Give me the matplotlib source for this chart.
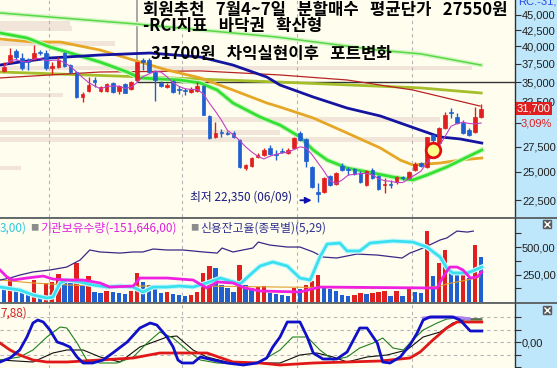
import numpy as np
import pandas as pd
import matplotlib
matplotlib.use('Agg')
import matplotlib.pyplot as plt
from matplotlib.lines import Line2D

plt.rcParams['font.family'] = ['Noto Sans CJK KR', 'DejaVu Sans']

# ---- daily candles (KRW) ----
opens = [36500, 37750, 39300, 38300, 37900, 38150, 39200, 39050, 36900, 37050,
         39050, 37300, 36350, 33100, 33850, 35300, 33850, 33850, 34900, 33850,
         34750, 34100, 35300, 38000, 38000, 36350, 34900, 34350, 35150, 34100,
         34000, 33750, 33850, 34500, 30850, 28500, 29050, 28950, 28950, 28200,
         25350, 25550, 26450, 26650, 27350, 26750, 27050, 26850, 27350, 28950,
         28300, 25450, 23200, 23200, 24600, 23900, 25550, 25300, 25300, 24900,
         23800, 25200, 24600, 23800, 23900, 24100, 24550, 24450, 25200, 25850,
         25450, 28700, 27850, 29450, 31300, 30700, 30050, 29250, 29050, 30750]
highs = [37750, 39750, 39600, 39050, 38300, 40200, 39450, 39450, 37750, 38450,
         39200, 37450, 36500, 33750, 35700, 35700, 34500, 34900, 35000, 34600,
         34900, 35150, 37800, 38300, 38300, 36600, 35150, 34900, 35300, 34500,
         34250, 34350, 35000, 34600, 30950, 30150, 29350, 29150, 29150, 28300,
         25750, 26450, 26850, 27350, 27650, 27150, 27350, 27350, 28500, 29150,
         28400, 25550, 24000, 24550, 24700, 25000, 25850, 25450, 25350, 25100,
         25200, 25350, 24700, 24450, 24250, 24600, 24600, 25100, 25950, 25950,
         28500, 28800, 29600, 31300, 31750, 31200, 30350, 29450, 31900, 32250]
lows = [36350, 37600, 38000, 36600, 36600, 38000, 38750, 36600, 35950, 36900,
        37050, 36200, 32950, 32500, 33750, 34350, 33750, 33750, 33600, 33500,
        33550, 34000, 35150, 36600, 36200, 32600, 34350, 34250, 33600, 33500,
        33350, 33600, 33750, 30900, 28300, 28400, 28500, 28700, 28400, 25350,
        25200, 25450, 26350, 26550, 26650, 26150, 26850, 26750, 27250, 28050,
        25450, 23550, 22350, 23100, 23700, 23800, 25100, 24700, 24700, 24000,
        23700, 24350, 23350, 23100, 23550, 23900, 24250, 24350, 25100, 25450,
        25350, 27150, 27750, 29350, 30600, 29900, 28800, 28600, 28950, 30600]
closes = [37050, 38750, 38450, 36900, 37750, 39050, 39050, 36900, 37150, 38000,
          37150, 36350, 33100, 33500, 34600, 35000, 34350, 34750, 33750, 34500,
          33600, 35000, 37750, 37750, 36350, 35300, 34500, 34600, 33750, 34000,
          33850, 34100, 34500, 30950, 28400, 28950, 28950, 28800, 28500, 25450,
          25650, 26350, 26650, 27150, 26750, 26650, 26950, 27150, 28400, 28200,
          26050, 23600, 23000, 24450, 23800, 24900, 25200, 25200, 24800, 24100,
          25100, 24450, 23450, 23900, 23800, 24550, 24450, 25000, 25750, 25550,
          28500, 28200, 29450, 30950, 31200, 30050, 28950, 28700, 30750, 31700]
volumes = [127, 218, 109, 91, 82, 200, 64, 173, 182, 255,
           200, 173, 355, 155, 236, 91, 82, 100, 91, 82,
           73, 100, 264, 182, 155, 136, 82, 91, 73, 64,
           55, 64, 91, 264, 327, 309, 155, 127, 91, 336,
           155, 127, 136, 145, 82, 73, 64, 55, 127, 118,
           155, 191, 245, 136, 118, 100, 64, 55, 64, 82,
           73, 82, 91, 100, 55, 100, 55, 136, 91, 82,
           645, 236, 355, 473, 273, 245, 291, 218, 518, 409]
month_breaks = [7.5, 29.5, 48.5, 67.5]

# ---- moving averages (day index, price) ----
ma_long_x = [-0.66, 22, 45, 62, 69, 79]
ma_long = [45350, 43500, 41450, 39450, 38900, 37300]
ma_olive_x = [-0.66, 22.5, 45.7, 68.9, 79]
ma_olive = [36350, 35700, 35000, 34250, 33600]
ma_red_x = [-0.66, 15.9, 32.5, 45.7, 56.8, 67.7, 78.8]
ma_red = [35550, 36350, 36500, 35950, 35280, 33980, 32000]
ma_navy_x = [-0.66, 2.6, 7.6, 15.9, 24.2, 32.5, 37.9, 43.5, 45.7, 51.2,
             56.8, 62.3, 68.9, 72.2, 75.5, 79.1]
ma_navy = [37310, 37730, 38310, 38740, 39030, 38450, 37310, 35680, 34620, 33100,
           31760, 30830, 29250, 28500, 28290, 27860]
ma_orange_x = [-0.66, 4.8, 9.3, 15.9, 21.4, 27, 32.5, 37.9, 43.5, 45.7,
               51.2, 56.8, 62.3, 65.6, 67.7, 72.2, 75.5, 79.1]
ma_orange = [41130, 40670, 40670, 39470, 38020, 36620, 35550, 33980, 32370, 31880,
             30600, 28930, 27350, 26140, 25660, 25850, 26140, 26340]
ma_green_x = [-0.66, 3.8, 7.6, 12.1, 15.9, 20.4, 22.5, 29.1, 32.5, 35.3, 37.9, 42.4,
              45.7, 49, 51.2, 53.5, 56.8, 61.1, 64.4, 67.7, 70, 73.3, 76.7, 79.1]
ma_green = [42070, 41290, 39920, 38740, 37730, 36350, 35550, 35280, 34880, 33980, 32370, 30710,
            29800, 28500, 27140, 26140, 25370, 24900, 24530, 24260, 24710, 25470, 26440, 27140]

# volume-by-price profile
vp_price = [43590, 42750, 40450, 36900, 33350, 30430, 28970, 28230, 25370]
vp_volume = [70, 72, 115, 472, 63, 440, 280, 433, 21]

support_level = 35000
marker_day = 22
circle_day, circle_price = 71, 27150

# ---- volume panel lines ----
cyan_x = [-0.66, 2.6, 4.8, 7.1, 8.1, 9.3, 10.4, 12.6, 14.7, 17.1, 19.2, 21.4, 23.0, 24.7,
          27.0, 29.1, 31.3, 33.6, 35.8, 39.1, 40.7, 42.4, 44.5, 46.9, 49.0, 50.7, 52.3,
          53.5, 55.6, 56.8, 58.9, 60.6, 64.4, 67.7, 70.0, 72.2, 73.3, 74.3, 76.7, 77.6, 79.1]
cyan_v = [136, 109, 64, 36, 45, 173, 200, 182, 155, 136, 145, 136, 91, 136,
          136, 145, 136, 173, 218, 164, 245, 327, 364, 327, 218, 200, 409,
          527, 536, 464, 464, 536, 555, 545, 500, 409, 309, 264, 264, 282, 318]
inst_x = [-0.66, 0.5, 1.5, 3.8, 6.5, 8.1, 10.4, 13.1, 15.9, 17.5, 21.4, 22.5, 27.0, 31.3,
          33.6, 35.3, 37.9, 39.9, 42.4, 49.0, 52.3, 71.7, 72.7, 73.8, 75.0, 76.0, 77.2, 78.3, 79.1]
inst_v = [291, 227, 200, 218, 236, 209, 200, 200, 173, 136, 145, 218, 218, 200,
          127, 182, 173, 127, 100, 91, 136, 127, 227, 318, 318, 291, 218, 227, 273]
credit_x = [-0.66, 1.0, 2.6, 4.8, 7.6, 10.4, 12.6, 14.2, 15.9, 19.2, 21.4, 23.0, 24.7, 27.0,
            29.6, 33.0, 35.3, 36.1, 37.9, 41.2, 42.1, 44.0, 46.9, 49.0, 51.2, 52.8, 55.1,
            58.4, 61.8, 65.9, 67.2, 69.4, 72.2, 73.3, 75.0, 76.7, 77.7]
credit_v = [200, 218, 245, 273, 291, 318, 382, 473, 455, 445, 455, 455, 482, 473,
            473, 455, 445, 491, 455, 491, 545, 518, 500, 500, 455, 409, 400,
            436, 427, 400, 445, 491, 564, 582, 645, 636, 645]
vol_ma_x = [-0.66, 4.8, 10.4, 15.9, 22.5, 32.5, 45.7, 62.3, 68.9, 72.2, 73.3, 76.7, 78.8]
vol_ma = [200, 173, 155, 145, 145, 145, 136, 127, 127, 145, 164, 200, 227]

# ---- RCI panel lines ----
rci_fast_x = [-0.66, 1.0, 2.6, 3.8, 4.8, 5.6, 6.5, 7.6, 8.8, 9.8, 10.9, 12.1, 13.1, 14.7, 16.4,
              18.0, 20.4, 22.5, 24.2, 25.3, 27.0, 28.0, 28.8, 29.5, 31.3, 32.5, 34.6, 36.9,
              39.6, 41.9, 43.5, 44.5, 45.7, 46.9, 49.0, 50.2, 51.2, 52.8, 55.1, 56.8, 58.9,
              60.1, 61.8, 62.7, 63.9, 65.6, 67.2, 68.4, 69.4, 70.5, 74.3, 75.5, 77.2, 79.1]
rci_fast = [-80, -64, -32, 20, 76, 88, 80, 48, 0, -8, -20, -60, -84, -84, -72,
            -44, 0, 56, 76, 68, 20, -20, -72, -84, -84, -60, -72, -84,
            -92, -84, -64, -20, 20, 80, 80, 20, -44, -68, -68, -40, 56,
            56, -4, -80, -84, -60, -12, 36, 88, 100, 100, 88, 44, 44]
rci_long_x = [-0.66, 1.0, 2.6, 4.8, 7.1, 10.4, 15.9, 21.4, 25.8, 30.3, 33.6, 37.9, 42.4,
              45.7, 51.2, 56.8, 62.3, 67.2, 68.9, 71.0, 73.3, 75.0, 79.1]
rci_long = [-4, -32, -52, -72, -80, -80, -72, -64, -44, -44, -44, -80, -84,
            -92, -84, -80, -76, -64, -40, 8, 56, 80, 80]
rci_mid_x = [-0.66, 2.6, 4.8, 7.1, 9.3, 10.4, 12.1, 13.7, 15.9, 18.7, 21.4, 23.7, 25.8, 28.0,
             30.3, 32.5, 35.3, 39.1, 42.4, 45.7, 47.8, 50.2, 52.3, 54.5, 56.8, 58.9, 61.1,
             62.7, 64.4, 66.1, 67.7, 69.4, 71.7, 73.3, 75.0, 76.7, 79.1]
rci_mid = [-72, -60, -32, 20, 60, 56, -4, -72, -84, -84, -60, -4, 40, 16,
           -32, -72, -84, -88, -80, -32, 20, 20, -32, -72, -60, -24, -4,
           16, -24, -32, 8, 48, 76, 92, 96, 88, 88]
rci_slow_x = [-0.66, 4.8, 8.1, 10.4, 13.1, 15.9, 19.2, 22.5, 27.0, 28.6, 31.3, 33.6, 36.9,
              40.2, 43.5, 45.7, 49.0, 51.8, 54.5, 56.8, 60.1, 63.4, 66.7, 69.4, 72.2,
              74.3, 76.7, 79.1]
rci_slow = [-72, -80, -44, -32, -32, -60, -80, -20, 20, 24, -32, -60, -80,
            -84, -84, -84, -52, -44, -60, -80, -60, -52, -32, 20, 40,
            76, 92, 92]
rci_sig_x = [69.5, 71.0, 74.0, 76.0, 77.0]
rci_sig = [96, 100, 100, 96, 92]

price_ticks = [22500, 25000, 27500, 30000, 32500, 35000, 37500, 40000, 42500, 45000]

# ---- colours ----
CREAM = '#FFFEEE'
AXIS_BG = '#BFE7FB'
RED = '#E0201E'
BLUE = '#1F5FCF'

W, H = 557, 368
fig = plt.figure(figsize=(W / 100, H / 100), dpi=100, facecolor=AXIS_BG)
plot_w = 515 / W
ax1 = fig.add_axes([0, 151 / H, plot_w, 217 / H])
ax2 = fig.add_axes([0, 66 / H, plot_w, 84 / H])
ax3 = fig.add_axes([0, 0, plot_w, 65 / H])

xlim = (-0.66, 84.6)
for ax in (ax1, ax2, ax3):
    ax.set_facecolor(CREAM)
    ax.set_xlim(*xlim)
    ax.set_xticks([])
    for s in ('top', 'left', 'bottom'):
        ax.spines[s].set_visible(False)
    ax.spines['right'].set_color('#303030')
    ax.spines['right'].set_linewidth(1)
    ax.yaxis.tick_right()
    ax.tick_params(axis='y', which='both', direction='out', length=4, width=0.8,
                   color='#303030', pad=1, labelsize=8, labelcolor='#202020')
    for m in month_breaks:
        ax.axvline(m, color='#B4B4B4', lw=0.8, ls=(0, (3, 3)), zorder=0.5)

# ---- price panel ----
ax1.set_yscale('log')
ax1.set_ylim(21120, 47600)
ax1.yaxis.set_minor_locator(plt.NullLocator())
ax1.set_yticks(price_ticks, labels=['' if t == 30000 else f'{t:,}' for t in price_ticks],
               fontfamily='Liberation Sans')

vmax = max(vp_volume)
for p, v in zip(vp_price, vp_volume):
    ax1.axhspan(p / 1.0085, p * 1.0085, xmin=0, xmax=v / vmax * 0.917,
                color='#F1E4D8', lw=0, zorder=0.3)

ax1.vlines(marker_day, support_level, 47600, color='#A0A0A0', lw=1.3, zorder=1)
ax1.hlines(support_level, marker_day, xlim[1], color='#333333', lw=1, zorder=1)

ax1.plot(ma_long_x, ma_long, color='#D4F5C4', lw=3.2, zorder=1.5)
ax1.plot(ma_long_x, ma_long, color='#58D844', lw=1.1, zorder=1.6)
ax1.plot(ma_olive_x, ma_olive, color='#A6BE2A', lw=2, zorder=1.6)
ax1.plot(ma_red_x, ma_red, color='#B82424', lw=0.9, zorder=1.7)
ax1.plot(ma_orange_x, ma_orange, color='#E6A626', lw=2, zorder=1.8)
ax1.plot(ma_green_x, ma_green, color='#C6F5B8', lw=3.6, zorder=1.85)
ax1.plot(ma_green_x, ma_green, color='#34E034', lw=2, zorder=1.9)
ax1.plot(ma_navy_x, ma_navy, color='#1414A0', lw=2, zorder=1.95)

idx = np.arange(len(closes))
o = np.array(opens)
c = np.array(closes)
cols = np.where(c >= o, RED, BLUE)
ax1.vlines(idx, lows, highs, colors=cols, lw=1, zorder=3)
ax1.bar(idx, np.abs(c - o), bottom=np.minimum(o, c), width=0.6, color=cols,
        edgecolor=cols, linewidth=0.5, zorder=3.1)

ma5 = pd.Series(closes).rolling(5, min_periods=1).mean()
ax1.plot(idx, ma5, color='#C040C8', lw=0.8, zorder=3.3)

ax1.scatter([circle_day], [circle_price], s=110, facecolor='#FFFF8C',
            edgecolor='#E01010', linewidth=2, zorder=4)

low_day = int(np.argmin(lows))
ax1.text(low_day - 21.2, min(lows) * 1.018, f'최저 {min(lows):,} (06/09)', ha='left',
         va='center', fontsize=8.5, color='#1A1A80', zorder=5)
ax1.annotate('', xy=(low_day - 0.6, min(lows) * 1.006), xytext=(low_day - 3.4, min(lows) * 1.006),
             arrowprops=dict(arrowstyle='-|>', color='#1010B0', lw=1.3, mutation_scale=9),
             zorder=5)

last = closes[-1]
pct = (closes[-1] / closes[-2] - 1) * 100
ax1.text(1.004, last, f'{last:,}', transform=ax1.get_yaxis_transform(), ha='left',
         va='center', fontsize=8, color='white', fontfamily='Liberation Sans',
         bbox=dict(boxstyle='square,pad=0.12', fc='#E02020', ec='none'), clip_on=False,
         zorder=6)
ax1.annotate(f'{pct:.2f}%'.replace('.', ','), xy=(1.0, last), xycoords=ax1.get_yaxis_transform(),
             xytext=(6, -15), textcoords='offset pixels', ha='left', va='center', fontsize=8,
             color='#E02020', fontfamily='Liberation Sans', annotation_clip=False)

# notes written on the chart
note_kw = dict(fontsize=12, weight='bold', color='black', va='center', ha='left')
fig.text(143 / W, 1 - 10 / H, '회원추천   7월4~7일   분할매수   평균단가   27550원', **note_kw)
fig.text(143 / W, 1 - 26.5 / H, '-RCI지표   바닥권   확산형', **note_kw)
fig.text(151 / W, 1 - 54 / H, '31700원   차익실현이후   포트변화', **note_kw)
fig.text(518 / W, 1 - 2 / H, 'RC:-31,7', fontsize=8, color='#2848F0', va='center',
         fontfamily='Liberation Sans')

# ---- volume panel ----
ax2.set_ylim(0, 764)
vol = np.array(volumes)
vcols = [BLUE] + [RED if vol[i] >= vol[i - 1] else BLUE for i in range(1, len(vol))]
ax2.bar(idx, vol, width=0.72, color=vcols, zorder=2)
ax2.plot(vol_ma_x, vol_ma, color='#E0A030', lw=0.8, zorder=3)
ax2.plot(credit_x, credit_v, color='#3A2888', lw=0.9, zorder=3)
ax2.plot(cyan_x, cyan_v, color='#C8F6FA', lw=3.6, zorder=3.1)
ax2.plot(cyan_x, cyan_v, color='#38E0F0', lw=2, zorder=3.2)
ax2.plot(inst_x, inst_v, color='#F020E0', lw=2, zorder=3.3)
ax2.set_yticks([250, 500], labels=['250,00', '500,00'], fontfamily='Liberation Sans')
ax2.set_yticks([125, 375, 625], minor=True)

fig.text(0, 1 - 228 / H, '3,00)', fontsize=8.5, color='#30C8E0', va='center')
fig.text(30 / W, 1 - 228 / H, '■', fontsize=6, color='#8C8C8C', va='center')
fig.text(40 / W, 1 - 228 / H, '기관보유수량(-151,646,00)', fontsize=8.5, color='#E020E0', va='center')
fig.text(190 / W, 1 - 228 / H, '■', fontsize=6, color='#8C8C8C', va='center')
fig.text(200 / W, 1 - 228 / H, '신용잔고율(종목별)(5,29)', fontsize=8.5, color='#303090', va='center')

# ---- RCI panel ----
ax3.set_ylim(-104, 156)
for g in (100, 50, 0, -50):
    ax3.axhline(g, color='#B4B4B4', lw=0.8, ls=(0, (3, 3)), zorder=0.5)
ax3.plot(rci_slow_x, rci_slow, color='#101010', lw=0.8, zorder=2)
ax3.plot(rci_mid_x, rci_mid, color='#208020', lw=0.8, zorder=2.1)
ax3.plot(rci_long_x, rci_long, color='#E01818', lw=2, zorder=2.2)
ax3.plot(rci_sig_x, rci_sig, color='#B080F0', lw=2.2, zorder=2.3)
ax3.plot(rci_fast_x, rci_fast, color='#1010C8', lw=2, zorder=2.4)
ax3.set_yticks([0], labels=['0,00'], fontfamily='Liberation Sans')
ax3.set_yticks([-100, -50, 50, 100], minor=True)
fig.text(0, 1 - 313 / H, '7,88)', fontsize=8.5, color='#D02020', va='center')

# panel separators and panel icons
for yy in (217.5, 302.5):
    fig.add_artist(Line2D([0, 1], [1 - yy / H] * 2, color='#505050', lw=1.2,
                          transform=fig.transFigure))
for yy in (224, 310):
    fig.add_artist(Line2D([547 / W], [1 - yy / H], marker='s', markersize=6, color='#5A5A5A',
                          transform=fig.transFigure))
    fig.add_artist(Line2D([547 / W], [1 - yy / H], marker='x', markersize=4, color='white',
                          mew=1, transform=fig.transFigure))

fig.savefig('out.png', dpi=100, facecolor=fig.get_facecolor())
